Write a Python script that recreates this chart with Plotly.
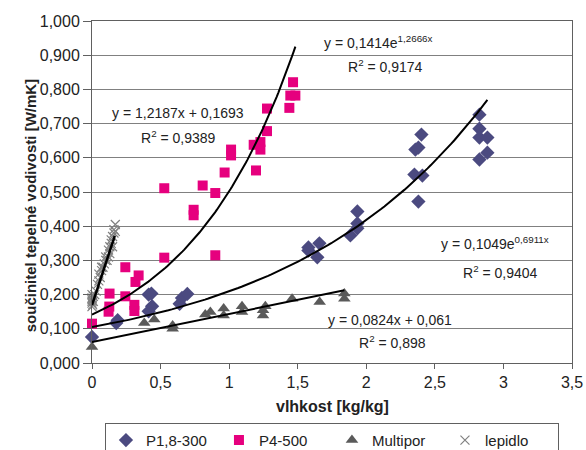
import numpy as np
import plotly.graph_objects as go

# ---------------- data ----------------
p18_x = [0.0, 0.177, 0.187, 0.413, 0.433, 0.438, 0.413, 0.639, 0.656, 0.695,
         1.578, 1.578, 1.658, 1.643, 1.935, 1.935, 1.935, 1.884,
         2.351, 2.409, 2.380, 2.358, 2.380, 2.402,
         2.825, 2.825, 2.825, 2.883, 2.883, 2.825]
p18_y = [0.076, 0.117, 0.125, 0.200, 0.203, 0.166, 0.151, 0.173, 0.190, 0.202,
         0.338, 0.329, 0.350, 0.309, 0.443, 0.408, 0.394, 0.373,
         0.551, 0.548, 0.472, 0.624, 0.630, 0.668,
         0.726, 0.685, 0.659, 0.659, 0.615, 0.595]

p4_x = [0.0, 0.121, 0.126, 0.128, 0.243, 0.243, 0.309, 0.309, 0.317, 0.340,
        0.527, 0.899, 0.527, 0.741, 0.741, 0.807, 0.899, 0.967, 1.014, 1.014,
        1.196, 1.179, 1.228, 1.228, 1.276, 1.276, 1.439, 1.446, 1.483, 1.466]
p4_y = [0.115, 0.150, 0.165, 0.203, 0.195, 0.280, 0.152, 0.170, 0.237, 0.256,
        0.308, 0.315, 0.511, 0.448, 0.432, 0.519, 0.497, 0.557, 0.624, 0.607,
        0.563, 0.638, 0.646, 0.624, 0.678, 0.744, 0.746, 0.782, 0.782, 0.821]

mp_x = [0.0, 0.381, 0.454, 0.588, 0.588, 0.826, 0.863, 0.960, 0.960, 1.094,
        1.094, 1.247, 1.247, 1.264, 1.459, 1.660, 1.840, 1.840]
mp_y = [0.047, 0.117, 0.127, 0.100, 0.110, 0.142, 0.149, 0.159, 0.139, 0.166,
        0.149, 0.154, 0.139, 0.166, 0.188, 0.178, 0.203, 0.188]

lep_x = [0.0, 0.0, 0.0, 0.0, 0.0, 0.0, 0.005, 0.01, 0.01, 0.02, 0.03, 0.04,
         0.05, 0.05, 0.06, 0.07, 0.07, 0.08, 0.09, 0.10, 0.10, 0.11, 0.12,
         0.12, 0.13, 0.13, 0.14, 0.14, 0.15, 0.15, 0.16, 0.16, 0.17, 0.17]
lep_y = [0.165, 0.175, 0.180, 0.185, 0.190, 0.200, 0.170, 0.180, 0.195, 0.200,
         0.210, 0.230, 0.240, 0.260, 0.250, 0.270, 0.280, 0.280, 0.290, 0.300,
         0.310, 0.300, 0.310, 0.330, 0.320, 0.340, 0.350, 0.360, 0.340, 0.370,
         0.380, 0.390, 0.385, 0.405]

# trend-line coefficients (from the chart's equations) and their x extents
p18_fit = (0.1049, 0.6911)      # y = a*e^(b x)
p4_fit = (0.1414, 1.2666)       # y = a*e^(b x)
mp_fit = (0.0824, 0.061)        # y = k x + q
lep_fit = (1.2187, 0.1693)      # y = k x + q
p18_xmax, p4_xmax, mp_xmax, lep_xmax = 2.883, 1.483, 1.84, 0.166

x_ticks = [0, 0.5, 1, 1.5, 2, 2.5, 3, 3.5]
y_ticks = [0, 0.1, 0.2, 0.3, 0.4, 0.5, 0.6, 0.7, 0.8, 0.9, 1.0]

# ---------------- figure ----------------
C_P18 = "#4b4a80"
C_P4 = "#e6007e"
C_MP = "#5a5a5a"
C_LEP = "#808080"
FONT = "Liberation Sans, Arial, sans-serif"

fig = go.Figure()

fig.add_trace(go.Scatter(x=p18_x, y=p18_y, mode="markers", name="P1,8-300",
                         marker=dict(symbol="diamond", size=11, color=C_P18),
                         cliponaxis=False))
fig.add_trace(go.Scatter(x=p4_x, y=p4_y, mode="markers", name="P4-500",
                         marker=dict(symbol="square", size=10, color=C_P4),
                         cliponaxis=False))
fig.add_trace(go.Scatter(x=mp_x, y=mp_y, mode="markers", name="Multipor",
                         marker=dict(symbol="triangle-up", size=11, color=C_MP),
                         cliponaxis=False))
fig.add_trace(go.Scatter(x=lep_x, y=lep_y, mode="markers", name="lepidlo",
                         marker=dict(symbol="x-thin-open", size=9, color=C_LEP,
                                     line=dict(width=1.2, color=C_LEP)),
                         cliponaxis=False))

# trend lines
xs = np.linspace(0, p18_xmax, 120)
fig.add_trace(go.Scatter(x=xs, y=p18_fit[0] * np.exp(p18_fit[1] * xs), mode="lines",
                         line=dict(color="black", width=2), showlegend=False, hoverinfo="skip"))
xs = np.linspace(0, p4_xmax, 120)
fig.add_trace(go.Scatter(x=xs, y=p4_fit[0] * np.exp(p4_fit[1] * xs), mode="lines",
                         line=dict(color="black", width=2), showlegend=False, hoverinfo="skip"))
xs = np.array([0, mp_xmax])
fig.add_trace(go.Scatter(x=xs, y=mp_fit[0] * xs + mp_fit[1], mode="lines",
                         line=dict(color="black", width=2), showlegend=False, hoverinfo="skip"))
xs = np.array([0, lep_xmax])
fig.add_trace(go.Scatter(x=xs, y=lep_fit[0] * xs + lep_fit[1], mode="lines",
                         line=dict(color="black", width=2.5), showlegend=False, hoverinfo="skip"))

# equation labels
def eq_label(x, y, text):
    fig.add_annotation(x=x, y=y, xref="x", yref="y", text=text, showarrow=False,
                       font=dict(family=FONT, size=14, color="#222222"),
                       xanchor="center", yanchor="middle")

eq_label(2.088, 0.940, "y = 0,1414e<sup>1,2666x</sup>")
eq_label(2.139, 0.867, "R<sup>2</sup> = 0,9174")
eq_label(0.63, 0.730, "y = 1,2187x + 0,1693")
eq_label(0.63, 0.660, "R<sup>2</sup> = 0,9389")
eq_label(2.94, 0.350, "y = 0,1049e<sup>0,6911x</sup>")
eq_label(2.98, 0.265, "R<sup>2</sup> = 0,9404")
eq_label(2.176, 0.1245, "y = 0,0824x + 0,061")
eq_label(2.19, 0.060, "R<sup>2</sup> = 0,898")

# axis titles
fig.add_annotation(x=-0.128, y=0.46, xref="paper", yref="paper",
                   text="<b>součinitel tepelné vodivosti [W/mK]</b>", textangle=-90,
                   showarrow=False, font=dict(family=FONT, size=15, color="#222222"),
                   xanchor="center", yanchor="middle")
fig.add_annotation(x=0.5, y=-0.128, xref="paper", yref="paper",
                   text="<b>vlhkost [kg/kg]</b>",
                   showarrow=False, font=dict(family=FONT, size=16, color="#222222"),
                   xanchor="center", yanchor="middle")

fig.update_xaxes(range=[0, 3.5], tickvals=x_ticks, showgrid=False, zeroline=False,
                 showline=True, linecolor="#606060", linewidth=1, mirror=True,
                 ticks="outside", ticklen=5, tickcolor="#606060",
                 tickfont=dict(family=FONT, size=16, color="#222222"))
fig.update_yaxes(range=[0, 1.0], tickvals=y_ticks, tickformat=".3f",
                 showgrid=True, gridcolor="#808080", gridwidth=1, zeroline=False,
                 showline=True, linecolor="#606060", linewidth=1, mirror=True,
                 ticks="outside", ticklen=8, tickcolor="#606060",
                 tickfont=dict(family=FONT, size=16, color="#222222"))

fig.update_layout(
    width=586, height=450,
    margin=dict(l=92, r=14, t=21, b=87, autoexpand=False),
    paper_bgcolor="white", plot_bgcolor="white",
    separators=", ",
    font=dict(family=FONT, color="#222222"),
    showlegend=True,
    legend=dict(orientation="h", x=0.027, y=-0.175, xanchor="left", yanchor="top",
                bordercolor="#606060", borderwidth=1, bgcolor="white",
                font=dict(family=FONT, size=15, color="#222222"),
                itemsizing="trace",
                entrywidth=68, entrywidthmode="pixels", itemwidth=30),
)

fig.write_html("out.html")
